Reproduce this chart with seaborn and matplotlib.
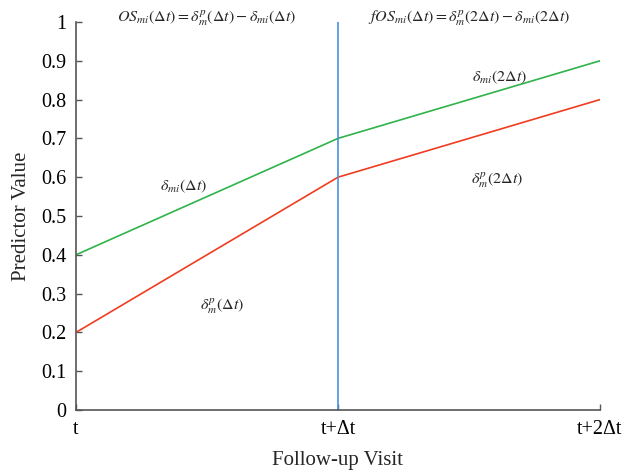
import pandas as pd
import matplotlib.pyplot as plt
import seaborn as sns

# data
visits = [0, 1, 2]
visit_labels = ['t', 't+Δt', 't+2Δt']
observed = [0.4, 0.7, 0.9]     # delta_mi (green)
predicted = [0.2, 0.6, 0.8]    # delta^p_m (red)
y_ticks = [0, 0.1, 0.2, 0.3, 0.4, 0.5, 0.6, 0.7, 0.8, 0.9, 1]
y_tick_labels = ['0', '0.1', '0.2', '0.3', '0.4', '0.5', '0.6', '0.7', '0.8', '0.9', '1']

df = pd.DataFrame({
    'Visit': visits * 2,
    'Value': observed + predicted,
    'Series': ['observed'] * 3 + ['predicted'] * 3,
})

sns.set_style('ticks')
plt.rcParams['font.family'] = ['Liberation Serif', 'DejaVu Serif']
plt.rcParams['mathtext.fontset'] = 'stix'

fig = plt.figure(figsize=(6.25, 4.74), dpi=100)
ax = fig.add_axes([0.1216, 0.135, 0.8384, 0.8186])

sns.lineplot(data=df, x='Visit', y='Value', hue='Series',
             palette={'observed': '#2fb34a', 'predicted': '#f03c1f'},
             linewidth=1.2, legend=False, ax=ax)

# vertical separator at t+Δt
ax.plot([1, 1], [0, 1], color='#4a90e2', linewidth=1.2)

ax.set_xlim(0, 2)
ax.set_ylim(0, 1)
ax.set_xticks(visits)
ax.set_xticklabels(visit_labels)
ax.set_yticks(y_ticks)
ax.set_yticklabels(y_tick_labels)
ax.tick_params(direction='in', length=4, width=1, colors='#555555',
               labelcolor='black', labelsize=14.5)
ax.tick_params(axis='x', pad=7)
ax.tick_params(axis='y', pad=7)
for s in ['left', 'bottom']:
    ax.spines[s].set_color('#555555')
    ax.spines[s].set_linewidth(1.2)
sns.despine(ax=ax)

ax.set_xlabel('Follow-up Visit', fontsize=15, labelpad=9)
ax.set_ylabel('Predictor Value', fontsize=15, labelpad=7)

fs = 11.5
ax.text(0.5, 1.008, r'$OS_{mi}(\Delta t)=\delta^{p}_{m}(\Delta t)-\delta_{mi}(\Delta t)$',
        ha='center', va='center', fontsize=fs)
ax.text(1.5, 1.008, r'$fOS_{mi}(\Delta t)=\delta^{p}_{m}(2\Delta t)-\delta_{mi}(2\Delta t)$',
        ha='center', va='center', fontsize=fs)
ax.text(0.41, 0.577, r'$\delta_{mi}(\Delta t)$', ha='center', va='center', fontsize=fs)
ax.text(0.557, 0.268, r'$\delta^{p}_{m}(\Delta t)$', ha='center', va='center', fontsize=fs)
ax.text(1.618, 0.858, r'$\delta_{mi}(2\Delta t)$', ha='center', va='center', fontsize=fs)
ax.text(1.607, 0.593, r'$\delta^{p}_{m}(2\Delta t)$', ha='center', va='center', fontsize=fs)

fig.savefig('out.png', dpi=100)
